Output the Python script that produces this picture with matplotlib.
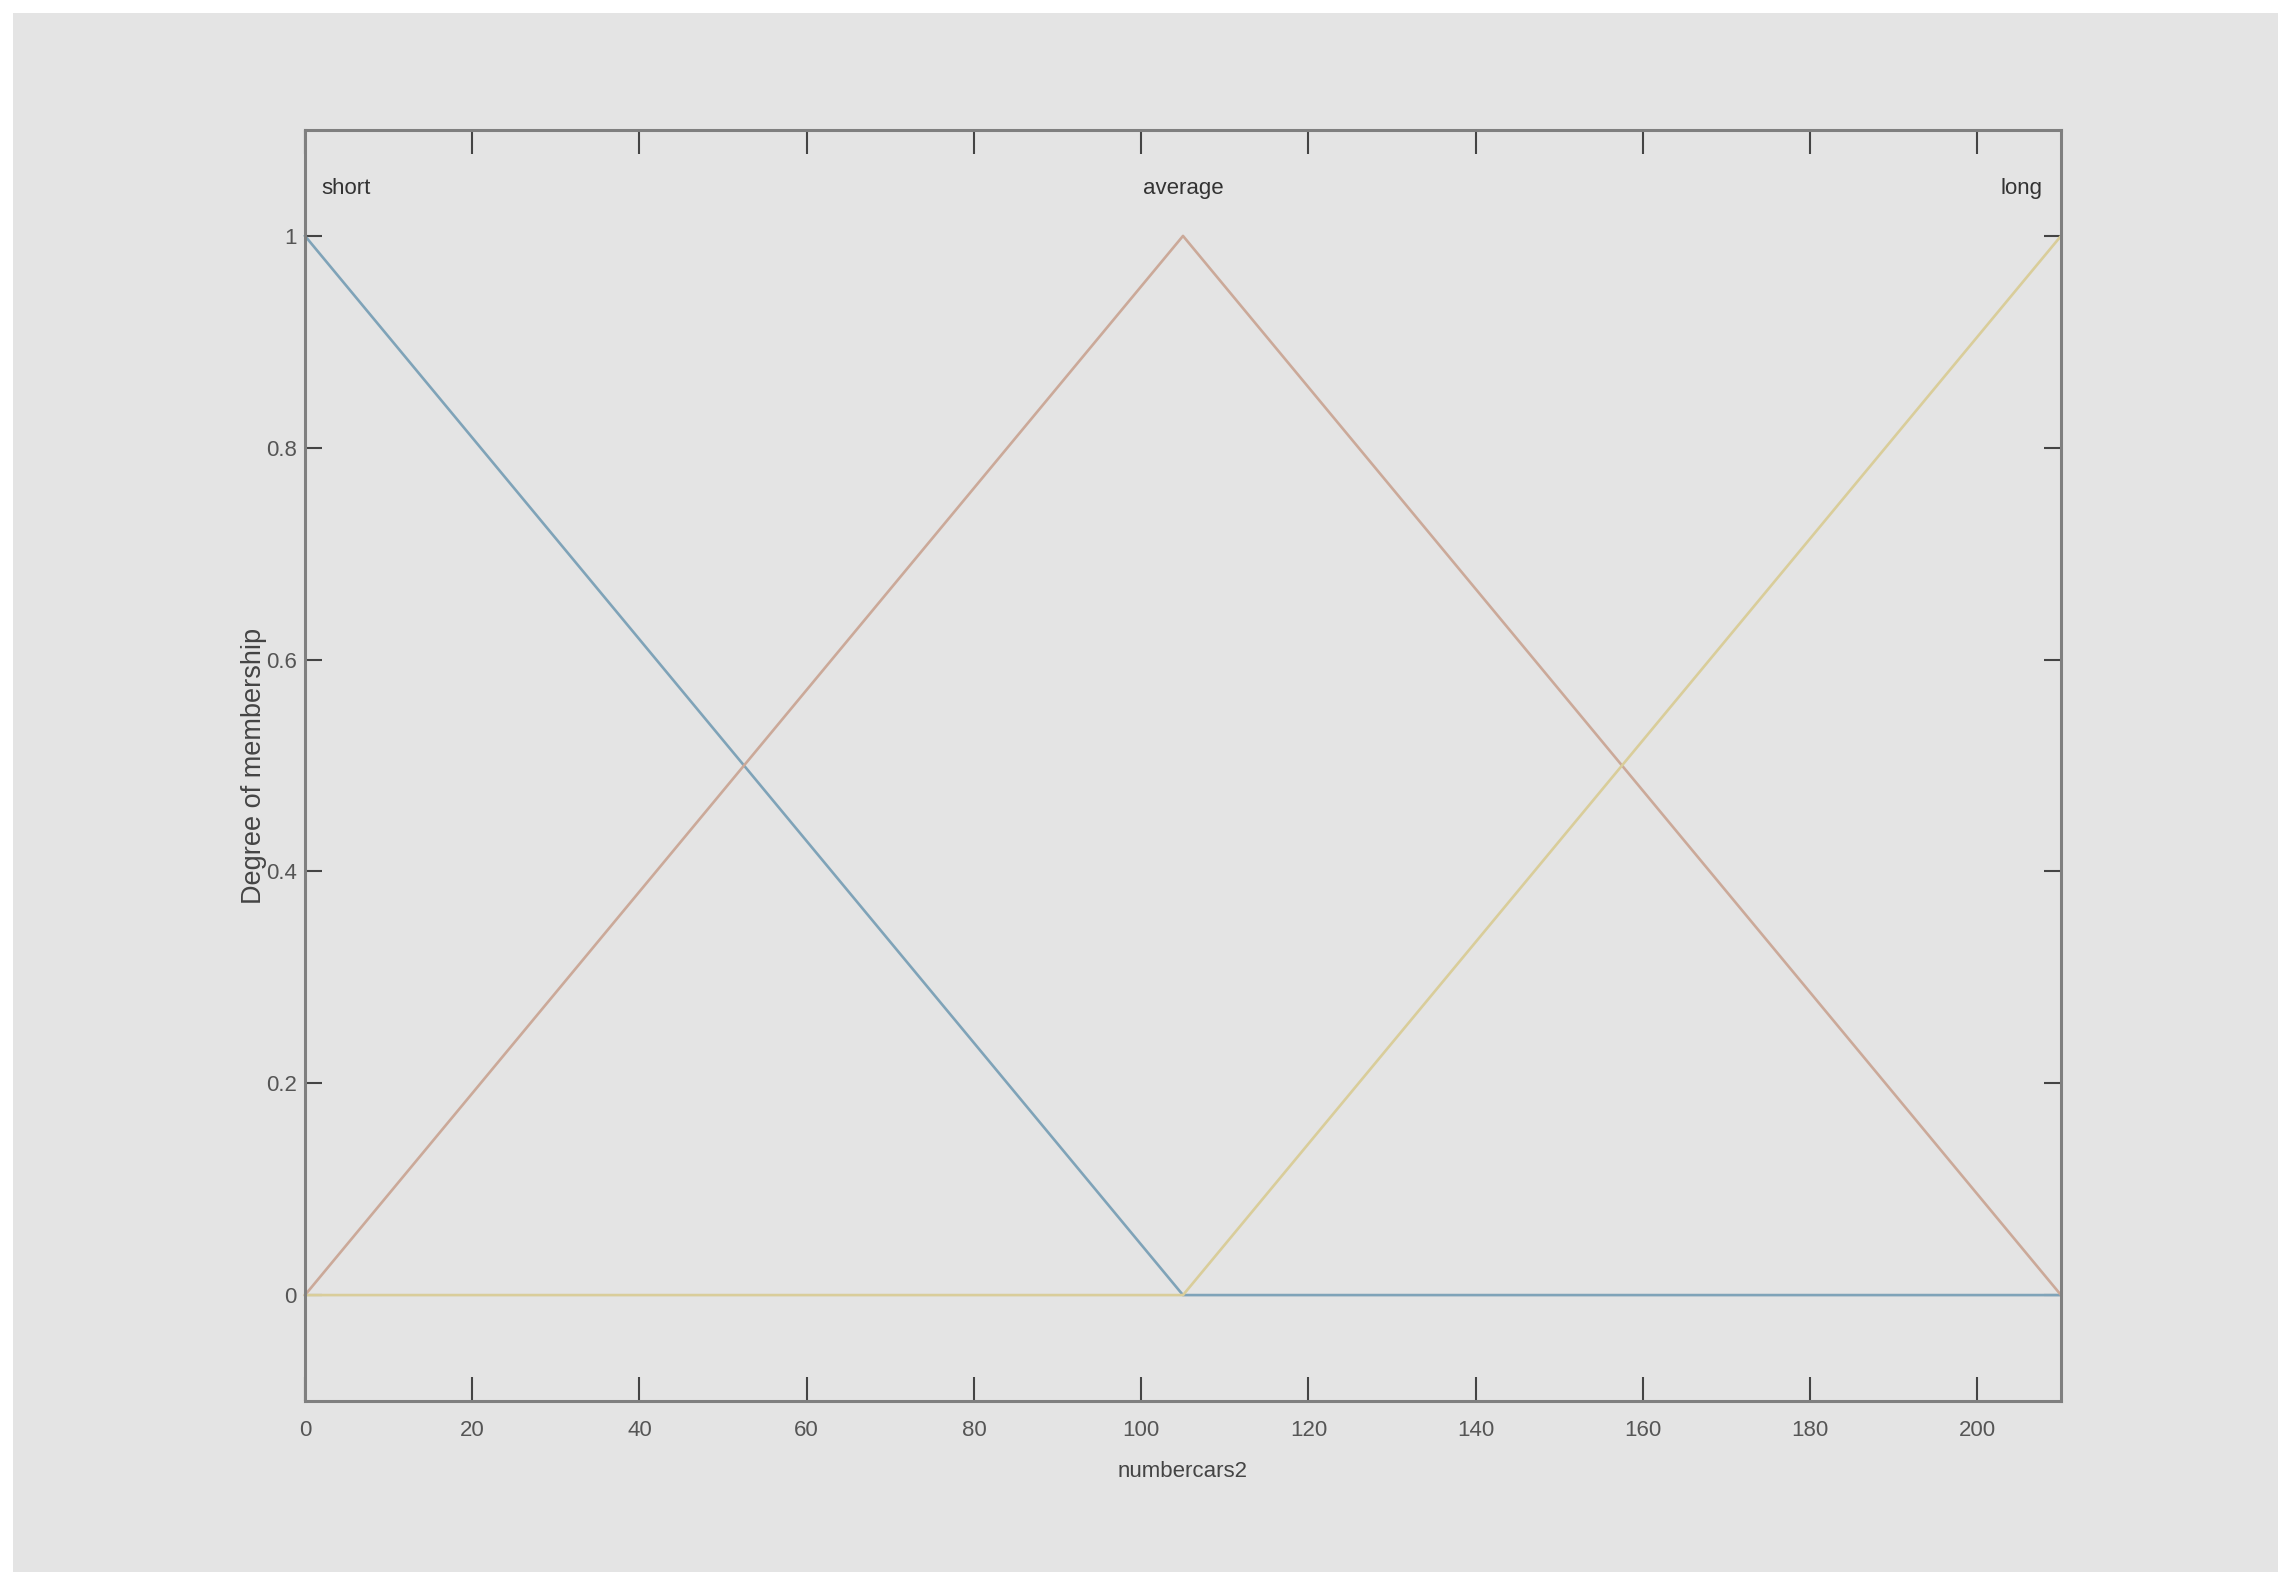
import matplotlib.pyplot as plt
from matplotlib.patches import Rectangle

# membership functions of numbercars2 (breakpoints)
x_points = [0, 105, 210]
short_mf = [1, 0, 0]
average_mf = [0, 1, 0]
long_mf = [0, 0, 1]

mf_names = ['short', 'average', 'long']
mf_peaks = [0, 105, 210]
mf_colors = ['#7fa3b8', '#cba999', '#d9cd9a']

x_ticks = list(range(0, 201, 20))
y_ticks = [0, 0.2, 0.4, 0.6, 0.8, 1]

plt.rcParams['font.family'] = ['Liberation Sans', 'DejaVu Sans']

W, H = 2292, 1593
fig = plt.figure(figsize=(W / 100, H / 100), dpi=100, facecolor='white')

# grey window background
fig.patches.append(Rectangle((13 / W, 1 - 1572 / H), (2278 - 13) / W, (1572 - 13) / H,
                             transform=fig.transFigure, facecolor='#e4e4e4',
                             edgecolor='none', zorder=-10))

ax = fig.add_axes([305 / W, 1 - 1401 / H, (2061 - 305) / W, (1401 - 130) / H])
ax.set_facecolor('#e4e4e4')

for ys, c in zip([short_mf, average_mf, long_mf], mf_colors):
    ax.plot(x_points, ys, color=c, linewidth=1.9, clip_on=False)

ax.set_xlim(0, 210)
ax.set_ylim(-0.1, 1.1)
ax.set_xticks(x_ticks)
ax.set_yticks(y_ticks)
ax.set_xticklabels([str(v) for v in x_ticks])
ax.set_yticklabels(['0', '0.2', '0.4', '0.6', '0.8', '1'])

ax.tick_params(axis='both', direction='in', top=True, right=True,
               labelsize=16, labelcolor='#555555', color='#444444', width=1.5)
ax.tick_params(axis='x', length=17, pad=14)
ax.tick_params(axis='y', length=12, pad=6)

for sp in ax.spines.values():
    sp.set_color('#7f7f7f')
    sp.set_linewidth(2.2)

# labels above each peak
for name, px in zip(mf_names, mf_peaks):
    ha = 'left' if px == 0 else ('right' if px == 210 else 'center')
    off = 2 if px == 0 else (-2.2 if px == 210 else 0)
    ax.text(px + off, 1.045, name, ha=ha, va='center', fontsize=16, color='#333333')

ax.set_xlabel('numbercars2', fontsize=16, color='#444444', labelpad=14)
ax.set_ylabel('Degree of membership', fontsize=19.5, color='#444444', labelpad=-1)

fig.savefig('out.png', dpi=100, facecolor='white')
